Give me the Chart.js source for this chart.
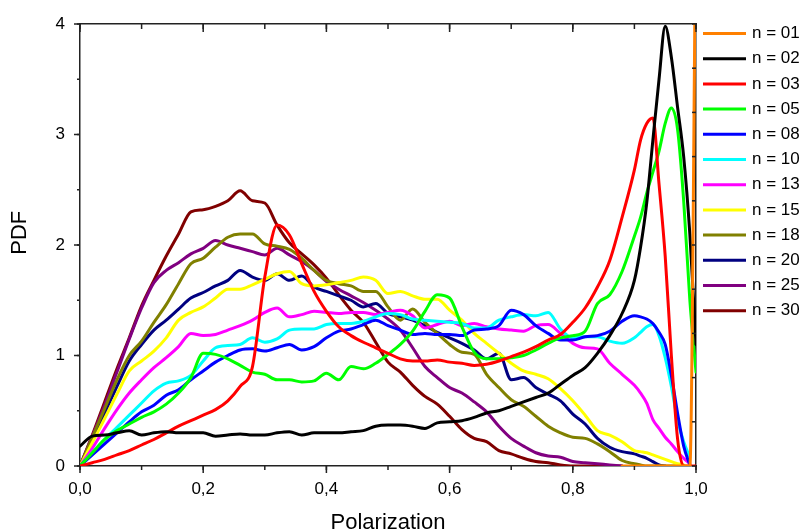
<!DOCTYPE html>
<html>
<head>
<meta charset="utf-8">
<title>PDF of polarization</title>
<script src="https://cdn.jsdelivr.net/npm/chart.js@4.4.1/dist/chart.umd.min.js"></script>
<style>
  html, body { margin: 0; padding: 0; background: #fff; }
  #wrap { width: 802px; height: 532px; }
</style>
</head>
<body>
<div id="wrap"><canvas id="pdfChart" width="802" height="532"></canvas></div>
<script>
// x grid (polarization), 0.02 steps then 0.01 near the right edge
const polarization = [0, 0.02, 0.04, 0.06, 0.08, 0.10, 0.12, 0.14, 0.16, 0.18,
  0.20, 0.22, 0.24, 0.26, 0.28, 0.30, 0.32, 0.34, 0.36, 0.38,
  0.40, 0.42, 0.44, 0.46, 0.48, 0.50, 0.52, 0.54, 0.56, 0.58,
  0.60, 0.62, 0.64, 0.66, 0.68, 0.70, 0.72, 0.74, 0.76, 0.78,
  0.80, 0.82, 0.84, 0.86, 0.88, 0.90, 0.91, 0.92, 0.93, 0.94,
  0.95, 0.96, 0.97, 0.98, 0.99, 1.00];

const pdfN01 = [null, null, null, null, null, null, null, null, null, null,
  null, null, null, null, null, null, null, null, null, null,
  null, null, null, null, null, null, null, null, null, null,
  null, null, null, null, null, null, null, null, null, null,
  null, null, null, null, 0, 0, 0, 0, 0, 0,
  0, 0, 0, 0, 0, 5.2];
const pdfN02 = [0.18, 0.27, 0.28, 0.30, 0.32, 0.28, 0.30, 0.31, 0.30, 0.30,
  0.30, 0.27, 0.28, 0.29, 0.28, 0.28, 0.30, 0.31, 0.28, 0.30,
  0.30, 0.30, 0.31, 0.32, 0.36, 0.37, 0.37, 0.36, 0.34, 0.39,
  0.40, 0.41, 0.44, 0.48, 0.50, 0.54, 0.58, 0.62, 0.66, 0.74,
  0.82, 0.89, 1.02, 1.18, 1.38, 1.68, 1.98, 2.38, 2.95, 3.50,
  3.98, 3.70, 3.25, 2.80, 2.10, 1.10];
const pdfN03 = [0, 0.03, 0.06, 0.10, 0.14, 0.19, 0.24, 0.30, 0.36, 0.41,
  0.46, 0.51, 0.59, 0.72, 0.90, 1.71, 2.18, 2.09, 1.83, 1.58,
  1.40, 1.26, 1.18, 1.12, 1.07, 1.02, 0.97, 0.95, 0.95, 0.96,
  0.94, 0.93, 0.91, 0.92, 0.95, 0.99, 1.03, 1.08, 1.14, 1.19,
  1.30, 1.43, 1.62, 1.86, 2.25, 2.68, 2.95, 3.10, 3.15, 2.55,
  1.90, 1.00, 0.25, 0, 0, 0];
const pdfN05 = [0, 0.12, 0.24, 0.32, 0.38, 0.44, 0.49, 0.56, 0.66, 0.80,
  1.02, 1.01, 0.97, 0.91, 0.85, 0.83, 0.78, 0.78, 0.76, 0.77,
  0.84, 0.78, 0.90, 0.88, 0.93, 1.01, 1.10, 1.22, 1.40, 1.55,
  1.52, 1.26, 1.03, 0.97, 0.97, 0.98, 1.00, 1.05, 1.11, 1.16,
  1.18, 1.22, 1.47, 1.55, 1.76, 2.08, 2.25, 2.47, 2.66, 2.85,
  3.10, 3.24, 3.05, 2.40, 1.50, 0.85];
const pdfN08 = [0, 0.10, 0.20, 0.30, 0.40, 0.49, 0.55, 0.64, 0.69, 0.78,
  0.86, 0.94, 1.00, 1.05, 1.06, 1.04, 1.07, 1.10, 1.05, 1.08,
  1.16, 1.22, 1.24, 1.28, 1.32, 1.27, 1.23, 1.19, 1.20, 1.19,
  1.19, 1.18, 1.23, 1.24, 1.27, 1.41, 1.37, 1.27, 1.20, 1.14,
  1.14, 1.17, 1.18, 1.22, 1.31, 1.36, 1.35, 1.33, 1.29, 1.21,
  1.10, 0.82, 0.48, 0.18, 0.01, null];
const pdfN10 = [0, 0.12, 0.24, 0.35, 0.46, 0.57, 0.68, 0.75, 0.77, 0.82,
  0.95, 1.07, 1.09, 1.10, 1.16, 1.12, 1.15, 1.23, 1.24, 1.24,
  1.28, 1.29, 1.29, 1.31, 1.35, 1.38, 1.37, 1.33, 1.32, 1.31,
  1.30, 1.29, 1.25, 1.25, 1.32, 1.35, 1.37, 1.36, 1.39, 1.24,
  1.16, 1.17, 1.17, 1.13, 1.11, 1.16, 1.21, 1.26, 1.28, 1.18,
  0.98, 0.72, 0.42, 0.22, 0.08, null];
const pdfN13 = [0, 0.16, 0.34, 0.51, 0.66, 0.78, 0.89, 0.98, 1.08, 1.20,
  1.18, 1.19, 1.23, 1.27, 1.32, 1.39, 1.43, 1.35, 1.37, 1.40,
  1.39, 1.38, 1.39, 1.39, 1.37, 1.39, 1.41, 1.36, 1.25, 1.28,
  1.31, 1.27, 1.29, 1.26, 1.24, 1.23, 1.22, 1.27, 1.28, 1.20,
  1.11, 1.07, 1.06, 0.93, 0.83, 0.73, 0.66, 0.57, 0.42, 0.34,
  0.26, 0.20, 0.13, 0.07, 0.02, null];
const pdfN15 = [0, 0.21, 0.43, 0.65, 0.86, 0.95, 1.04, 1.16, 1.32, 1.39,
  1.44, 1.52, 1.60, 1.60, 1.64, 1.69, 1.74, 1.76, 1.65, 1.63,
  1.64, 1.66, 1.68, 1.71, 1.68, 1.56, 1.58, 1.54, 1.51, 1.51,
  1.41, 1.32, 1.20, 1.11, 1.02, 0.93, 0.86, 0.83, 0.79, 0.70,
  0.59, 0.46, 0.32, 0.28, 0.22, 0.14, 0.13, 0.12, 0.10, 0.08,
  0.06, 0.04, 0.02, 0.01, null, null];
const pdfN18 = [0, 0.26, 0.52, 0.78, 1.00, 1.13, 1.30, 1.46, 1.65, 1.83,
  1.88, 1.98, 2.07, 2.10, 2.10, 2.01, 1.99, 1.96, 1.88, 1.77,
  1.68, 1.65, 1.63, 1.58, 1.58, 1.44, 1.32, 1.42, 1.30, 1.20,
  1.10, 1.03, 1.01, 0.83, 0.71, 0.60, 0.54, 0.45, 0.36, 0.30,
  0.26, 0.25, 0.20, 0.13, 0.05, 0.02, 0.01, 0, 0, 0,
  0, 0, 0, 0, null, null];
const pdfN20 = [0, 0.24, 0.48, 0.72, 0.95, 1.10, 1.23, 1.32, 1.42, 1.52,
  1.57, 1.63, 1.68, 1.77, 1.71, 1.68, 1.74, 1.68, 1.72, 1.62,
  1.58, 1.54, 1.50, 1.44, 1.47, 1.38, 1.35, 1.32, 1.27, 1.21,
  1.16, 1.11, 1.05, 0.97, 1.02, 0.78, 0.80, 0.71, 0.65, 0.59,
  0.47, 0.38, 0.25, 0.17, 0.13, 0.11, 0.09, 0.07, 0.04, 0.01,
  0, null, null, null, null, null];
const pdfN25 = [0, 0.27, 0.55, 0.85, 1.15, 1.43, 1.66, 1.77, 1.84, 1.92,
  1.97, 2.04, 2.00, 1.97, 1.94, 1.91, 1.97, 1.91, 1.85, 1.77,
  1.67, 1.60, 1.54, 1.48, 1.41, 1.33, 1.23, 1.07, 0.90, 0.80,
  0.71, 0.66, 0.58, 0.49, 0.36, 0.25, 0.18, 0.12, 0.09, 0.08,
  0.04, 0.03, 0.02, 0.01, 0, null, null, null, null, null,
  null, null, null, null, null, null];
const pdfN30 = [0, 0.28, 0.58, 0.88, 1.16, 1.45, 1.68, 1.90, 2.10, 2.30,
  2.32, 2.35, 2.40, 2.49, 2.40, 2.38, 2.18, 2.02, 1.92, 1.82,
  1.70, 1.55, 1.41, 1.30, 1.12, 0.94, 0.85, 0.73, 0.63, 0.56,
  0.45, 0.33, 0.25, 0.22, 0.14, 0.11, 0.07, 0.04, 0.03, 0.01,
  0, 0, 0, 0, 0, null, null, null, null, null,
  null, null, null, null, null, null];

const seriesLabels = ['n = 01', 'n = 02', 'n = 03', 'n = 05', 'n = 08', 'n = 10',
  'n = 13', 'n = 15', 'n = 18', 'n = 20', 'n = 25', 'n = 30'];
const seriesValues = [pdfN01, pdfN02, pdfN03, pdfN05, pdfN08, pdfN10,
  pdfN13, pdfN15, pdfN18, pdfN20, pdfN25, pdfN30];
const seriesColors = ['#ff8000', '#000000', '#ff0000', '#00ff00', '#0000ff', '#00ffff',
  '#ff00ff', '#ffff00', '#808000', '#000080', '#800080', '#800000'];

const xTickLabels = ['0,0', '0,2', '0,4', '0,6', '0,8', '1,0'];
const yTickLabels = ['0', '1', '2', '3', '4'];

const FONT = '"Liberation Sans", Arial, sans-serif';
Chart.defaults.font.family = FONT;
Chart.defaults.color = '#000';

// Origin-style tick marks: outward on bottom/left, inward on top/right, with minors
const frameTicks = {
  id: 'frameTicks',
  afterDraw(chart) {
    const { ctx, scales } = chart;
    const specs = [
      { id: 'x', step: 0.2, len: 7, dir: 1 },
      { id: 'x', step: 0.1, len: 4, dir: 1 },
      { id: 'xTop', step: 0.2, len: 8, dir: 1 },
      { id: 'xTop', step: 0.1, len: 5, dir: 1 },
      { id: 'y', step: 1, len: 6, dir: -1 },
      { id: 'y', step: 0.5, len: 3, dir: -1 },
      { id: 'yRight', step: 1, len: 4, dir: -1 }
    ];
    ctx.save();
    ctx.strokeStyle = '#222';
    ctx.lineWidth = 1.5;
    specs.forEach(s => {
      const scale = scales[s.id];
      const n = Math.round((scale.max - scale.min) / s.step);
      for (let k = 0; k <= n; k++) {
        const p = scale.getPixelForValue(scale.min + k * s.step);
        ctx.beginPath();
        if (scale.isHorizontal()) {
          const edge = scale.position === 'top' ? scale.bottom : scale.top;
          ctx.moveTo(p, edge);
          ctx.lineTo(p, edge + s.dir * s.len);
        } else {
          const edge = scale.position === 'right' ? scale.left : scale.right;
          ctx.moveTo(edge, p);
          ctx.lineTo(edge + s.dir * s.len, p);
        }
        ctx.stroke();
      }
    });
    ctx.restore();
  }
};

// legend column to the right of the frame
const sideLegend = {
  id: 'sideLegend',
  afterDraw(chart) {
    const { ctx, chartArea: a } = chart;
    ctx.save();
    ctx.font = '17px ' + FONT;
    ctx.textBaseline = 'middle';
    ctx.textAlign = 'left';
    ctx.fillStyle = '#000';
    chart.data.datasets.forEach((ds, i) => {
      const y = a.top + 9.5 + i * 25.2;
      ctx.strokeStyle = ds.borderColor;
      ctx.lineWidth = 3;
      ctx.beginPath();
      ctx.moveTo(a.right + 7, y);
      ctx.lineTo(a.right + 50, y);
      ctx.stroke();
      ctx.fillText(ds.label, a.right + 56, y);
    });
    ctx.restore();
  }
};

const datasets = seriesLabels.map((label, i) => ({
  label,
  data: polarization.map((x, j) => ({ x, y: seriesValues[i][j] })),
  borderColor: seriesColors[i],
  backgroundColor: seriesColors[i],
  borderWidth: 3,
  pointRadius: 0,
  cubicInterpolationMode: 'monotone',
  borderCapStyle: 'round',
  borderJoinStyle: 'round',
  fill: false
}));

new Chart(document.getElementById('pdfChart'), {
  type: 'line',
  data: { datasets },
  options: {
    responsive: false,
    animation: false,
    layout: { padding: 0 },
    plugins: {
      legend: { display: false },
      tooltip: { enabled: false }
    },
    scales: {
      x: {
        type: 'linear', position: 'bottom', min: 0, max: 1,
        ticks: { stepSize: 0.2, padding: 5, font: { size: 17 }, color: '#000', maxRotation: 0, autoSkip: false,
          callback: (v, i) => xTickLabels[i] },
        grid: { display: false, tickLength: 8 },
        border: { color: '#222', width: 1.5 },
        title: { display: true, text: 'Polarization', font: { size: 22 }, color: '#000', padding: { top: 0, bottom: -4 } },
        afterFit: s => { s.height = 66; }
      },
      y: {
        type: 'linear', position: 'left', min: 0, max: 4,
        ticks: { stepSize: 1, padding: 7, font: { size: 17 }, color: '#000',
          callback: (v, i) => yTickLabels[i] },
        grid: { display: false, tickLength: 8 },
        border: { color: '#222', width: 1.5 },
        title: { display: true, text: '    PDF', font: { size: 22 }, color: '#000', padding: { top: 6.8, bottom: 0 } },
        afterFit: s => { s.width = 80; }
      },
      xTop: {
        type: 'linear', position: 'top', min: 0, max: 1,
        ticks: { display: false, stepSize: 0.1 },
        grid: { display: false, drawTicks: false },
        border: { color: '#222', width: 1.5 },
        afterFit: s => { s.height = 24; }
      },
      yRight: {
        type: 'linear', position: 'right', min: 0, max: 10,
        ticks: { display: false, stepSize: 1 },
        grid: { display: false, drawTicks: false },
        border: { color: '#222', width: 1.5 },
        afterFit: s => { s.width = 106; }
      }
    }
  },
  plugins: [frameTicks, sideLegend]
});
</script>
</body>
</html>
